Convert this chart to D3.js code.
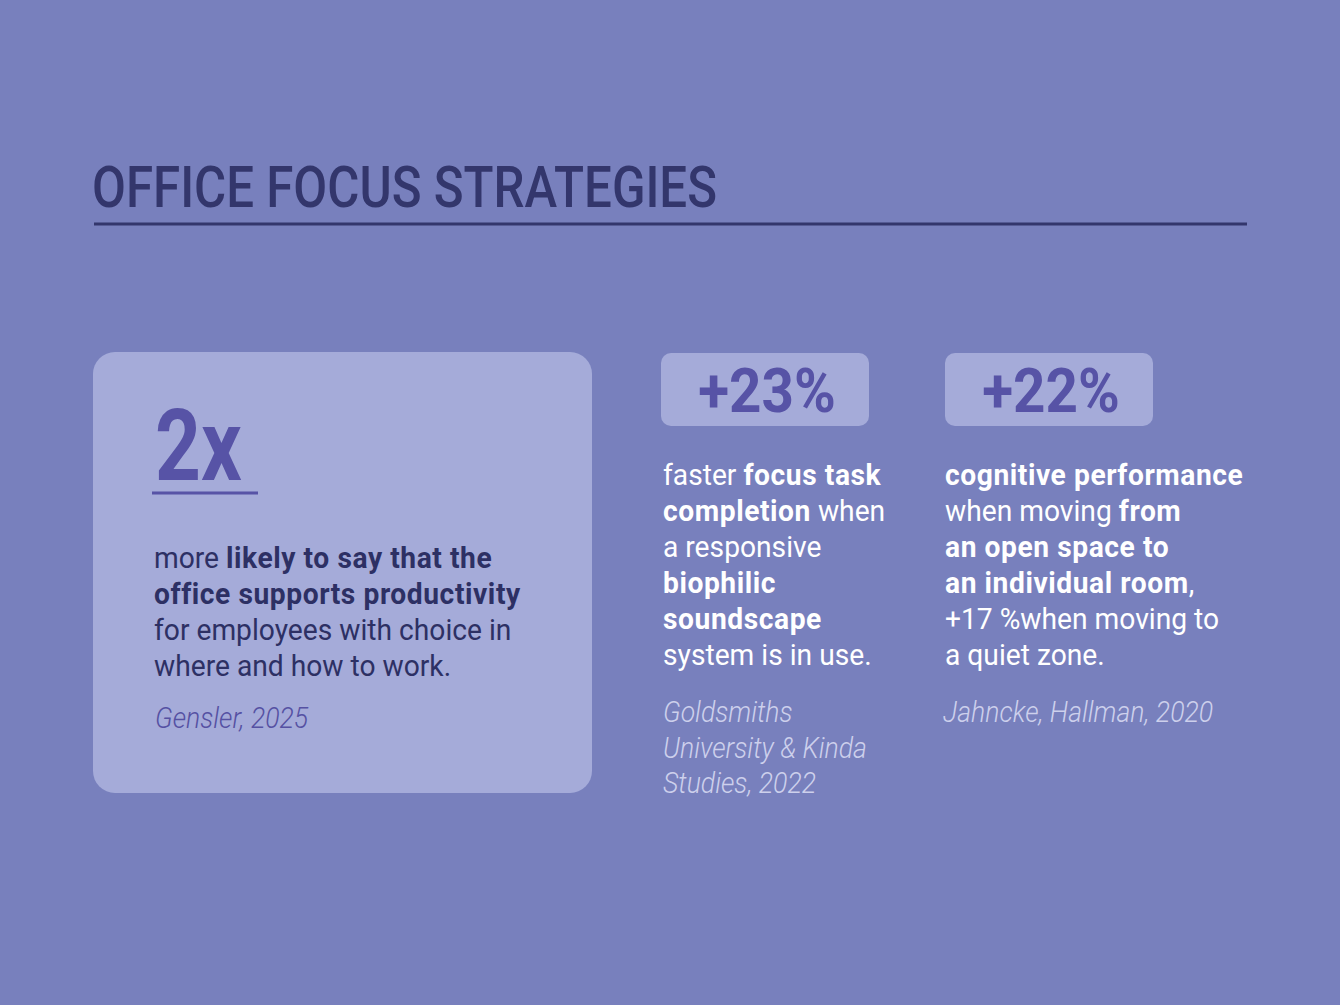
<!DOCTYPE html>
<html><head><meta charset="utf-8">
<script src="https://cdn.jsdelivr.net/npm/d3@7"></script>
<style>html,body{margin:0;padding:0;background:#7880BD;}svg{display:block;}</style>
</head><body>
<script>
// ---- data ----
const title = "OFFICE FOCUS STRATEGIES";
const stats = ["2x", "+23%", "+22%"];
// description lines: each line is a list of [text, bold]
const descriptions = [
  [
    [["more ", false], ["likely to say that the", true]],
    [["office supports productivity", true]],
    [["for employees with choice in", false]],
    [["where and how to work.", false]]
  ],
  [
    [["faster ", false], ["focus task", true]],
    [["completion", true], [" when", false]],
    [["a responsive", false]],
    [["biophilic", true]],
    [["soundscape", true]],
    [["system is in use.", false]]
  ],
  [
    [["cognitive performance", true]],
    [["when moving ", false], ["from", true]],
    [["an open space to", true]],
    [["an individual room", true], [",", false]],
    [["+17 %when moving to", false]],
    [["a quiet zone.", false]]
  ]
];
const sources = [
  ["Gensler, 2025"],
  ["Goldsmiths", "University & Kinda", "Studies, 2022"],
  ["Jahncke, Hallman, 2020"]
];

// ---- layout ----
const W = 1340, H = 1005;
const FONT = "Roboto, 'Noto Sans', sans-serif";
const SX = 0.94; // horizontal condensing of body text
const svg = d3.select("body").append("svg").attr("width", W).attr("height", H);
svg.append("rect").attr("width", W).attr("height", H).attr("fill", "#7880BD");

function cText(g, x, y, sx) {
  return g.append("text").attr("transform", `translate(${x},${y}) scale(${sx},1)`)
    .attr("font-family", FONT);
}

// title
cText(svg, 92, 207, 0.849).text(title)
  .attr("font-size", 58).attr("font-weight", 500).attr("fill", "#33366C");
svg.append("rect").attr("x", 94).attr("y", 222.5).attr("width", 1153).attr("height", 3).attr("fill", "#33366C");

// card 1
svg.append("rect").attr("x", 93).attr("y", 352).attr("width", 499).attr("height", 441)
  .attr("rx", 22).attr("fill", "#A5ABD9");
cText(svg, 155, 480, 0.80).text(stats[0])
  .attr("font-size", 100).attr("font-weight", 700).attr("fill", "#5753A6");
svg.append("rect").attr("x", 152).attr("y", 491.5).attr("width", 106).attr("height", 3).attr("fill", "#5753A6");

const lineH = 36;
function drawLines(lines, x, y0, color, boldColor) {
  lines.forEach((segs, i) => {
    const t = cText(svg, x, y0 + i * lineH, SX).attr("font-size", 30).attr("fill", color);
    segs.forEach(([s, b]) => {
      t.append("tspan").text(s).attr("font-weight", b ? 700 : 400)
        .attr("letter-spacing", b ? 0.6 : 0)
        .attr("fill", b ? boldColor : color).style("white-space", "pre");
    });
  });
}
function drawSource(lines, x, y0, color) {
  lines.forEach((s, i) => {
    cText(svg, x, y0 + i * 35.5, 0.918).text(s).attr("font-size", 29)
      .attr("font-style", "italic").attr("font-weight", 300).attr("fill", color);
  });
}
drawLines(descriptions[0], 154, 568, "#2D3064", "#2D3064");
drawSource(sources[0], 155, 728, "#5551A3");

// stat boxes
const boxX = [661, 945];
[1, 2].forEach((k, j) => {
  const bx = boxX[j];
  svg.append("rect").attr("x", bx).attr("y", 353).attr("width", 208).attr("height", 73)
    .attr("rx", 10).attr("fill", "#A5ABD9");
  cText(svg, bx + 106, 412, 0.913).text(stats[k]).attr("text-anchor", "middle")
    .attr("font-size", 62).attr("font-weight", 700).attr("fill", "#5753A6");
  drawLines(descriptions[k], bx + (j === 0 ? 2 : 0), 485, "#FFFFFF", "#FFFFFF");
  drawSource(sources[k], bx + (j === 0 ? 2 : -2), 722, "#CDD0EC");
});
</script>
</body></html>
